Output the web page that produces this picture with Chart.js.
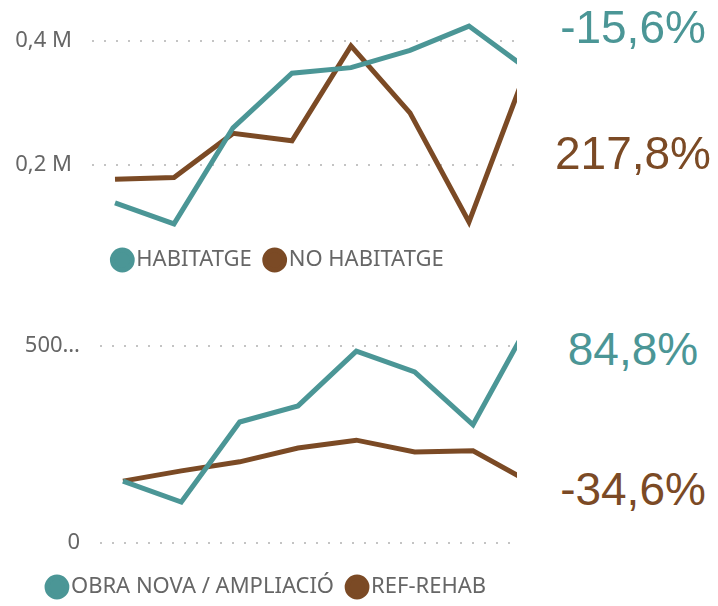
<!DOCTYPE html>
<html>
<head>
<meta charset="utf-8">
<script src="https://cdn.jsdelivr.net/npm/chart.js@4"></script>
<style>
  html, body { margin: 0; padding: 0; background: #fff; overflow: hidden; }
  #wrap { position: relative; width: 718px; height: 606px; overflow: hidden; }
  canvas { position: absolute; left: 0; }
  .kpi { position: absolute; left: 548px; width: 170px; text-align: center;
         font-family: "Liberation Sans", Arial, sans-serif; font-size: 46px; line-height: 46px; }
</style>
</head>
<body>
<div id="wrap">
  <canvas id="topChart" width="563" height="281" style="top:0"></canvas>
  <canvas id="bottomChart" width="540" height="308" style="top:300px"></canvas>
  <div class="kpi" id="kpi0" style="top:4px"></div>
  <div class="kpi" id="kpi1" style="top:130px"></div>
  <div class="kpi" id="kpi2" style="top:326px"></div>
  <div class="kpi" id="kpi3" style="top:466px"></div>
</div>
<script>
var periods = ['1', '2', '3', '4', '5', '6', '7', '8'];

// top chart
var topNames = ['HABITATGE', 'NO HABITATGE'];
var habitatge = [139000, 105000, 260000, 348000, 357000, 385000, 424000, 354000];
var noHabitatge = [177000, 180000, 251000, 239000, 392000, 284000, 108000, 360000];
var topTicks = [200000, 400000];

// bottom chart
var bottomNames = ['OBRA NOVA / AMPLIACIÓ', 'REF-REHAB'];
var obraNova = [157, 104, 307, 348, 487, 434, 300, 569];
var refRehab = [157, 183, 206, 241, 261, 231, 234, 152];
var bottomTicks = [0, 500];

var kpiTexts = ['-15,6%', '217,8%', '84,8%', '-34,6%'];

var colors = ['#4b9696', '#7b4a25'];
var gray = '#666666';

function points(values) {
    return values.map(function (v, i) {
        return { x: i, y: v };
    });
}

function draw(id, names, series, cfg) {
    var ctx = document.getElementById(id).getContext('2d');
    return new Chart(ctx, {
        type: 'line',
        data: {
            labels: periods,
            datasets: series.map(function (s, i) {
                return {
                    label: names[i],
                    data: points(s),
                    borderColor: colors[i],
                    backgroundColor: colors[i],
                    borderWidth: 5,
                    pointRadius: 0,
                    pointHoverRadius: 0,
                    tension: 0,
                    clip: 0
                };
            })
        },
        options: {
            responsive: false,
            animation: false,
            layout: { padding: { top: cfg.padTop, left: 0, right: 0, bottom: 0 } },
            plugins: {
                tooltip: { enabled: false },
                legend: {
                    position: 'bottom',
                    align: 'center',
                    labels: {
                        usePointStyle: true,
                        pointStyle: 'circle',
                        boxWidth: 6,
                        boxHeight: 14,
                        padding: 20,
                        color: gray,
                        font: { family: 'Noto Sans', size: 22 }
                    }
                }
            },
            scales: {
                x: { type: 'linear', min: cfg.xMin, max: cfg.xMax, display: false },
                y: {
                    min: cfg.yMin,
                    max: cfg.yMax,
                    afterFit: function (s) {
                        s.width = cfg.axisWidth;
                        /* labels are not at the edges, no need for extra room */
                        s.paddingTop = 0;
                        s.paddingBottom = 0;
                    },
                    afterBuildTicks: function (s) {
                        s.ticks = cfg.ticks.map(function (v) { return { value: v }; });
                    },
                    // in v4 the grid line dash lives under border
                    border: { display: false, dash: [2, 10] },
                    grid: { color: '#c4c4c4', lineWidth: 2, drawTicks: false },
                    ticks: {
                        padding: 20,
                        color: gray,
                        font: { family: 'Noto Sans', size: 22 },
                        callback: cfg.format
                    }
                },
                /* empty axis on the right so the legend stays centred on the whole canvas */
                yr: {
                    position: 'right',
                    display: true,
                    grid: { display: false },
                    border: { display: false },
                    ticks: { display: false },
                    afterFit: function (s) { s.width = cfg.rightGap; }
                }
            }
        }
    });
}

draw('topChart', topNames, [habitatge, noHabitatge], {
    padTop: 16, xMin: -0.39, xMax: 6.814, yMin: 96800, yMax: 440300,
    axisWidth: 92, rightGap: 46, ticks: topTicks,
    format: function (v) { return (v / 1000000).toFixed(1).replace('.', ',') + ' M'; }
});

draw('bottomChart', bottomNames, [obraNova, refRehab], {
    padTop: 30, xMin: -0.394, xMax: 6.754, yMin: -33, yMax: 540.6,
    axisWidth: 100, rightGap: 23, ticks: bottomTicks,
    format: function (v) { return v === 0 ? '0' : v + '\u2026'; }
});

for (var i = 0; i < kpiTexts.length; i++) {
    var el = document.getElementById('kpi' + i);
    el.textContent = kpiTexts[i];
    el.style.color = colors[i % 2];
}
</script>
</body>
</html>
